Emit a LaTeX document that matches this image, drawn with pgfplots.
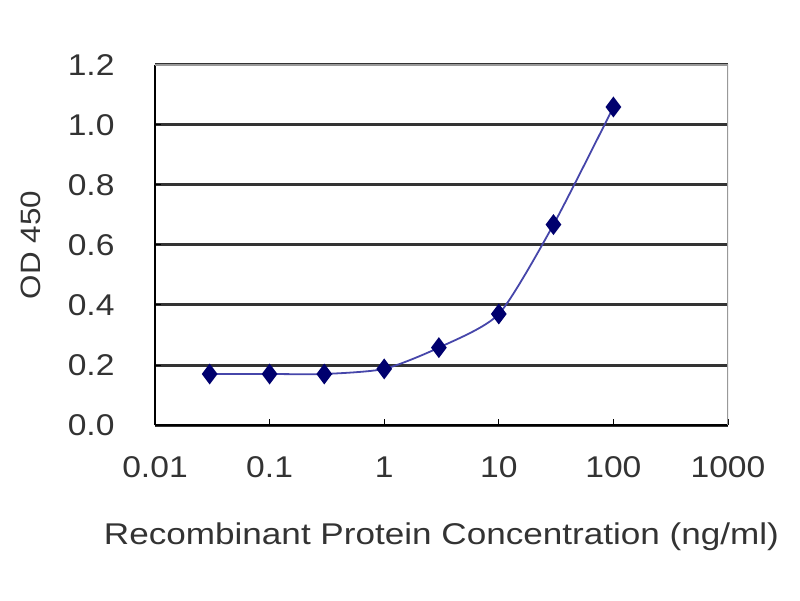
\documentclass[border=0pt]{standalone}
\usepackage{fontspec}
\setmainfont[FakeStretch=1.12]{Liberation Sans}
\newfontfamily\widefont[FakeStretch=1.17]{Liberation Sans}
\usepackage{pgfplots}
\pgfplotsset{compat=1.18}
\begin{document}
\begin{tikzpicture}[x=1pt,y=1pt]
\path[use as bounding box] (0,0) rectangle (800,600);
\begin{axis}[
  at={(155pt,175pt)}, anchor=south west,
  scale only axis, width=573pt, height=360pt,
  xmode=log, xmin=0.01, xmax=1000,
  ymin=0, ymax=1.2,
  xtick={0.01,0.1,1,10,100,1000},
  xticklabels={0.01,0.1,1,10,100,1000},
  ytick={0,0.2,0.4,0.6,0.8,1.0,1.2},
  yticklabel style={/pgf/number format/fixed, /pgf/number format/fixed zerofill, /pgf/number format/precision=1, xshift=-37pt},
  /pgf/number format/assume math mode=true,
  minor tick num=0,
  log basis x=10,
  tick align=inside, tick pos=left,
  major tick length=6pt,
  tick style={black, line width=1pt},
  ymajorgrids, grid style={black!80, line width=3pt},
  axis line style={line width=1.2pt},
  separate axis lines,
  axis x line*=bottom, axis y line*=left,
  ticklabel style={font=\fontsize{30}{30}\selectfont, text=black!80},
  xticklabel style={yshift=-28pt},
  xlabel={Recombinant Protein Concentration (ng/ml)},
  ylabel={OD 450},
  label style={text=black!80},
  xlabel style={font=\widefont\fontsize{30}{30}\selectfont, yshift=-38pt},
  ylabel style={font=\fontsize{28}{28}\selectfont, yshift=20pt},
]
\draw[black!40, line width=1.2pt] (rel axis cs:0,1) -- (rel axis cs:1,1) -- (rel axis cs:1,0);
\addplot[color={rgb,255:red,70;green,70;blue,170}, line width=1.8pt, smooth, tension=0.4,
  mark=diamond*, mark size=9pt, mark options={fill={rgb,255:red,0;green,0;blue,110}, draw={rgb,255:red,0;green,0;blue,110}}]
  coordinates {
  (0.03,0.17) (0.1,0.17) (0.3,0.17) (1,0.187) (3,0.258) (10,0.37) (30,0.668) (100,1.06)
  };
\end{axis}
\end{tikzpicture}
\end{document}
